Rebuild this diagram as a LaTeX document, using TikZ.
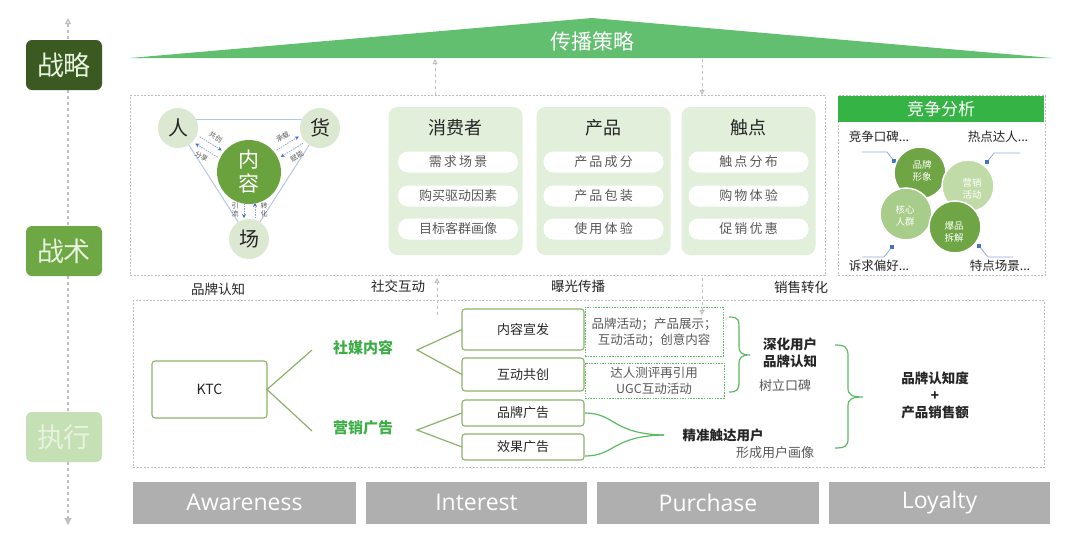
\documentclass[tikz,border=0pt]{standalone}
\usepackage{fontspec}
\setmainfont{Noto Sans CJK SC}
\newfontfamily\latinf{Open Sans}
\usetikzlibrary{arrows.meta,calc}
\definecolor{lvA}{HTML}{3A5A22}
\definecolor{lvB}{HTML}{6DA845}
\definecolor{lvC}{HTML}{C5E0B4}
\definecolor{lvtxt}{HTML}{E8F3DE}
\definecolor{trig}{HTML}{63BF70}
\definecolor{hdr}{HTML}{35B445}
\definecolor{card}{HTML}{E2EFDA}
\definecolor{neirong}{HTML}{6AA23D}
\definecolor{pale}{HTML}{DDE8D2}
\definecolor{olive}{HTML}{8DB26A}
\definecolor{brace}{HTML}{5DBB63}
\definecolor{gtxt}{HTML}{3DAE46}
\definecolor{dgray}{HTML}{BFBFBF}
\definecolor{tline}{HTML}{B4C7E7}
\definecolor{sblue}{HTML}{4472C4}
\definecolor{lblue}{HTML}{8FAADC}
\definecolor{bar}{HTML}{AFAFAF}
\definecolor{ink}{HTML}{262626}
\definecolor{mid}{HTML}{595959}
\definecolor{petD}{HTML}{6FA544}
\definecolor{petL}{HTML}{C0DBA8}
\definecolor{petM}{HTML}{A8CC8A}
\begin{document}
\begin{tikzpicture}[x=1pt,y=-1pt,
  every node/.style={inner sep=0pt,outer sep=0pt,text=ink},
  lvl/.style={rounded corners=6pt,minimum width=76pt,minimum height=50pt,text=lvtxt,font=\fontsize{27}{30}\selectfont},
  dbox/.style={draw=dgray,line width=0.8pt,dash pattern=on 2pt off 1.5pt},
  garrow/.style={draw=dgray,line width=1pt,dashed,-{Triangle[open,length=5pt,width=5pt]}},
  cardbox/.style={fill=card,rounded corners=9pt,minimum width=134pt,minimum height=148pt},
  cardttl/.style={font=\fontsize{18}{20}\selectfont},
  pill/.style={fill=white,rounded corners=10pt,minimum width=120pt,minimum height=21pt,text=mid,font=\fontsize{13}{15}\selectfont},
  pale/.style={circle,fill=pale,minimum size=40pt},
  bigch/.style={font=\fontsize{20}{22}\selectfont},
  triline/.style={draw=tline,line width=1pt},
  sarr/.style={draw=lblue,line width=0.8pt,dash pattern=on 1.5pt off 1pt,-{Stealth[length=4pt,width=4pt,sblue]}},
  tiny/.style={text=mid,font=\fontsize{7}{8}\selectfont,align=center},
  mid/.style={font=\fontsize{13.5}{16}\selectfont},
  petal/.style={circle,draw=white,line width=1.5pt,minimum size=52pt},
  ptxt/.style={text=white,align=center,font=\fontsize{9.5}{11.5}\selectfont},
  leader/.style={draw=lblue,line width=0.8pt},
  sq/.style={fill=sblue,minimum size=4pt},
  ebox/.style={draw=olive,line width=1.1pt,rounded corners=3pt,fill=white,minimum width=122pt,font=\fontsize{13}{15}\selectfont},
  eline/.style={draw=olive,line width=1.2pt},
  gdash/.style={draw=brace,line width=0.8pt,dash pattern=on 1.5pt off 1.2pt},
  brc/.style={draw=brace,line width=1.2pt},
  gbold/.style={text=gtxt,font=\bfseries\fontsize{15}{17}\selectfont},
  bld/.style={font=\bfseries\fontsize{13.5}{17}\selectfont,align=center},
  gry/.style={text=mid,font=\fontsize{12.5}{16}\selectfont,align=center},
  barbox/.style={fill=bar,minimum height=42pt,text=white,font=\latinf\fontsize{23}{26}\selectfont}
]
\useasboundingbox (0,0) rectangle (1080,541);
\fill[white] (0,0) rectangle (1080,541);

% left vertical axis
\coordinate (axT) at (68,18);
\coordinate (axB) at (68,525);
\draw[draw=dgray,line width=1.2pt,dashed,{Triangle[length=6pt,width=6pt,open]}-{Triangle[length=7pt,width=7pt]},dgray] (axT) -- (axB);
\node[lvl,fill=lvA] (zl) at (64,65) {战略};
\node[lvl,fill=lvB] (zs) at (64,251) {战术};
\node[lvl,fill=lvC] (zx) at (64,437) {执行};

% strategy triangle
\fill[trig] (130,58) -- (592,18) -- (1052,58) -- cycle;
\node[text=white,font=\fontsize{21}{23}\selectfont] (cbcl) at (592,41) {传播策略};

% frames
\node[dbox,minimum width=695pt,minimum height=180pt] (tac) at (477.5,185.5) {};
\node[dbox,minimum width=207pt,minimum height=180pt] (cmp) at (941.5,185.5) {};
\node[dbox,minimum width=911pt,minimum height=167pt] (exe) at (588.5,384) {};

% small arrows between levels
\coordinate (a1s) at (435,95); \coordinate (a1e) at (435,59);
\coordinate (a2s) at (702,59); \coordinate (a2e) at (702,95);
\draw[garrow] (a1s) -- (a1e);
\draw[garrow] (a2s) -- (a2e);
\coordinate (a3s) at (437,315); \coordinate (a3e) at (437,278);
\coordinate (a4s) at (702,278); \coordinate (a4e) at (702,315);
\draw[garrow] (a3s) -- (a3e);
\draw[garrow] (a4s) -- (a4e);

% people-goods-place triangle
\coordinate (renc) at (178,128);
\coordinate (huoc) at (320,128);
\coordinate (chc) at (249,239);
\draw[triline] ([yshift=9pt]renc) -- ([yshift=9pt]huoc);
\draw[triline] (renc) -- (chc);
\draw[triline] (huoc) -- (chc);
\node[pale] (ren) at (renc) {};
\node[pale] (huo) at (huoc) {};
\node[pale] (chang) at (chc) {};
\node[bigch] (rent) at (ren.center) {人};
\node[bigch] (huot) at (huo.center) {货};
\node[bigch] (changt) at (chang.center) {场};
\node[circle,fill=neirong,minimum size=64pt] (nr) at (249,172) {};
\node[text=white,align=center,font=\fontsize{21}{24}\selectfont] (nrt) at (nr.center) {内\\容};
\begin{scope}[shift={(ren.center)},rotate=-31.8]
  \draw[sarr] (23,-4) -- (49,-4);
  \draw[sarr] (49,4) -- (23,4);
  \node[tiny,rotate=-31.8] (lgc) at (37,-12) {共创};
  \node[tiny,rotate=-31.8] (lfx) at (35,12) {分享};
\end{scope}
\begin{scope}[shift={(nr.center)},rotate=31.8]
  \draw[sarr] (35,-4) -- (61,-4);
  \draw[sarr] (61,4) -- (35,4);
  \node[tiny,rotate=31.8] (lcz) at (47,-12) {承载};
  \node[tiny,rotate=31.8] (lfn) at (49,12) {赋能};
\end{scope}
\coordinate (c1s) at (244,203); \coordinate (c1e) at (244,218);
\coordinate (c2s) at (255,218); \coordinate (c2e) at (255,203);
\draw[sarr] (c1s) -- (c1e);
\draw[sarr] (c2s) -- (c2e);
\node[tiny] (lyl) at (235,210) {引\\流};
\node[tiny] (lzh) at (264,210) {转\\化};

% cards
\node[cardbox] (k1) at (455.5,181) {};
\node[cardbox] (k2) at (603.5,181) {};
\node[cardbox] (k3) at (748.5,181) {};
\node[cardttl] (k1t) at (455.5,128) {消费者};
\node[cardttl] (k2t) at (603.5,128) {产品};
\node[cardttl] (k3t) at (748.5,128) {触点};
\node[pill] (p11) at (458,162) {需\,求\,场\,景};
\node[pill] (p12) at (458,196) {购买驱动因素};
\node[pill] (p13) at (458,229) {目标客群画像};
\node[pill] (p21) at (603.5,162) {产\,品\,成\,分};
\node[pill] (p22) at (603.5,196) {产\,品\,包\,装};
\node[pill] (p23) at (603.5,229) {使\,用\,体\,验};
\node[pill] (p31) at (748.5,162) {触\,点\,分\,布};
\node[pill] (p32) at (748.5,196) {购\,物\,体\,验};
\node[pill] (p33) at (748.5,229) {促\,销\,优\,惠};

% competition analysis
\node[fill=hdr,minimum width=206pt,minimum height=26pt,text=white,font=\fontsize{17}{19}\selectfont] (hd) at (941,109) {竞争分析};
\node[mid,font=\fontsize{12.5}{15}\selectfont] (t1) at (879,137) {竞争口碑...};
\node[mid,font=\fontsize{12.5}{15}\selectfont] (t2) at (998,137) {热点达人...};
\node[mid,font=\fontsize{12.5}{15}\selectfont] (t3) at (879,266) {诉求偏好...};
\node[mid,font=\fontsize{12.5}{15}\selectfont] (t4) at (1000,266) {特点场景...};
\node[sq] (s1) at (894,161) {};
\node[sq] (s2) at (987,162) {};
\node[sq] (s3) at (892,247) {};
\node[sq] (s4) at (979,246) {};
\coordinate (q1) at (862,152); \coordinate (q1b) at (887,152);
\coordinate (q2) at (1020,153); \coordinate (q2b) at (994,153);
\coordinate (q3) at (862,257); \coordinate (q3b) at (884,257);
\coordinate (q4) at (1013,257); \coordinate (q4b) at (988,257);
\draw[leader] (q1) -- (q1b) -- (s1);
\draw[leader] (q2) -- (q2b) -- (s2);
\draw[leader] (q3) -- (q3b) -- (s3);
\draw[leader] (q4) -- (q4b) -- (s4);
\node[petal,fill=petD] (pe1) at (920,173) {};
\node[petal,fill=petM] (pe3) at (906,214) {};
\node[petal,fill=petL] (pe2) at (968,186) {};
\node[petal,fill=petD] (pe4) at (955,227) {};
\node[ptxt] (pe1t) at (922,171) {品牌\\形象};
\node[ptxt] (pe2t) at (972,189) {营销\\活动};
\node[ptxt] (pe3t) at (905,216) {核心\\人群};
\node[ptxt] (pe4t) at (954,232) {爆品\\拆解};

% stage labels
\node[mid] (sl1) at (218,289) {品牌认知};
\node[mid] (sl2) at (398,286) {社交互动};
\node[mid] (sl3) at (578,286) {曝光传播};
\node[mid] (sl4) at (801,287) {销售转化};

% execution
\node[ebox,minimum width=115pt,minimum height=57pt,font=\fontsize{14}{16}\selectfont] (ktc) at (209.5,389.5) {KTC};
\node[gbold] (smnr) at (363,348) {社媒内容};
\node[gbold] (yxgg) at (363,428) {营销广告};
\coordinate (f1) at (312,350);
\coordinate (f2) at (312,431);
\draw[eline] (f1) -- (ktc.east) -- (f2);
\node[ebox,minimum height=41pt] (nrxf) at (523,329.5) {内容宣发};
\node[ebox,minimum height=33pt] (hdgc) at (523,374.5) {互动共创};
\node[ebox,minimum height=26pt] (ppgg) at (523,413) {品牌广告};
\node[ebox,minimum height=26pt] (xggg) at (523,447) {效果广告};
\coordinate (f3) at (417,350);
\coordinate (f4) at (417,430);
\draw[eline] (nrxf.west) -- (f3) -- (hdgc.west);
\draw[eline] (ppgg.west) -- (f4) -- (xggg.west);

\node[gdash,minimum width=138pt,minimum height=49pt] (g1) at (654,331.5) {};
\node[gdash,minimum width=139pt,minimum height=35pt] (g2) at (654.5,380.5) {};
\node[gry] (g1t) at (654,332) {品牌活动；产品展示；\\互动活动；创意内容};
\node[gry] (g2t) at (654,381) {达人测评再引用\\UGC互动活动};

\draw[brc] (729,317) .. controls (739,317) and (739,320) .. (739,330) -- (739,346) .. controls (739,353) and (742,355) .. (750,355)
  .. controls (742,355) and (739,357) .. (739,364) -- (739,382) .. controls (739,390) and (737,392) .. (729,392);
\node[bld] (sh1) at (790,353) {深化用户\\品牌认知};
\node[gry,font=\fontsize{13}{15}\selectfont] (sh2) at (785,386) {树立口碑};

\coordinate (b2a) at (585,413);
\coordinate (b2b) at (585,456);
\coordinate (b2t) at (664,435);
\draw[brc] (b2a) .. controls (615,413) and (612,434) .. (b2t);
\draw[brc] (b2b) .. controls (615,456) and (612,436) .. (b2t);
\node[bld] (jz) at (723,435) {精准触达用户};
\node[gry,font=\fontsize{13}{15}\selectfont] (xc) at (775,453) {形成用户画像};

\draw[brc] (835,345) .. controls (845,345) and (848,347) .. (848,356) -- (848,388) .. controls (848,395) and (852,397) .. (863,397)
  .. controls (852,397) and (848,399) .. (848,406) -- (848,439) .. controls (848,446) and (845,448) .. (835,448);
\node[bld] (res) at (935,395) {品牌认知度\\+\\产品销售额};

% bottom bar
\node[barbox,minimum width=223pt] (aw) at (244.5,502.5) {Awareness};
\node[barbox,minimum width=221pt] (in) at (476.5,502.5) {Interest};
\node[barbox,minimum width=222pt] (pu) at (708,502.5) {Purchase};
\node[barbox,minimum width=221pt] (lo) at (939.5,502.5) {Loyalty};
\end{tikzpicture}
\end{document}
